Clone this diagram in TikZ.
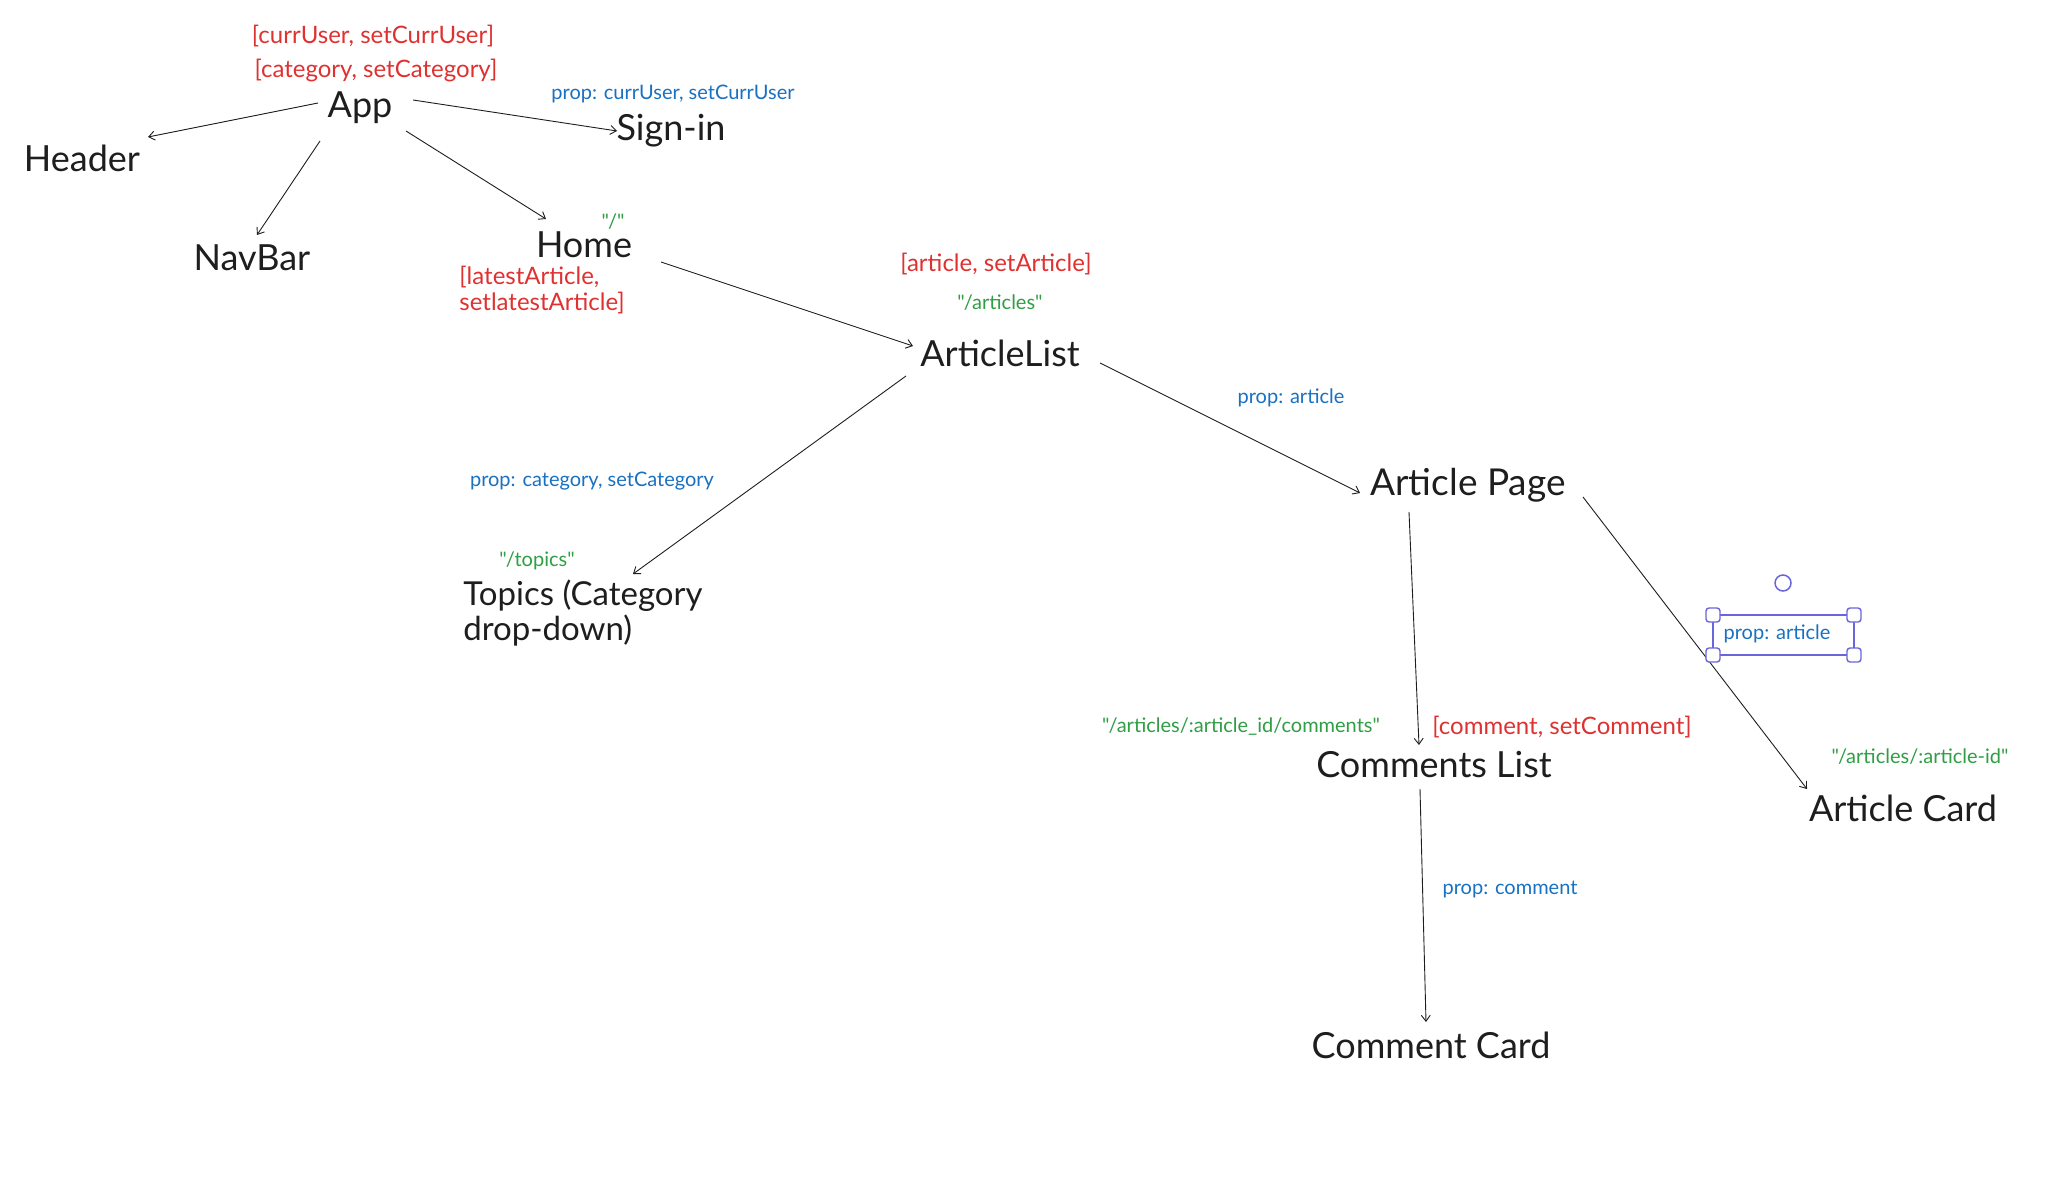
\documentclass[tikz,border=0pt]{standalone}
\usepackage{fontspec}
\setmainfont{Lato}[Ligatures=TeXOff]
\usetikzlibrary{calc,arrows.meta}
\definecolor{exred}{HTML}{E03131}
\definecolor{exblue}{HTML}{1971C2}
\definecolor{exgreen}{HTML}{2F9E44}
\definecolor{exsel}{HTML}{6965DB}
\definecolor{exink}{HTML}{1E1E1E}
\begin{document}
\begin{tikzpicture}[x=0.5pt,y=-0.5pt,
 comp/.style={font=\fontsize{18}{22}\selectfont, text=exink, inner sep=0pt},
 state/.style={font=\fontsize{12}{13}\selectfont, text=exred, inner sep=0pt},
 propl/.style={font=\fontsize{10}{12}\selectfont, text=exblue, inner sep=0pt},
 route/.style={font=\fontsize{10}{12}\selectfont, text=exgreen, inner sep=0pt},
 arr/.style={draw=exink, line width=0.45pt, -{Straight Barb[length=3pt,width=4.5pt]}},
 handle/.style={draw=exsel, fill=white, line width=0.7pt, rounded corners=1.5pt, minimum size=7pt, inner sep=0pt}
]
\fill[white] (0,0) rectangle (2068,1192);
\useasboundingbox (0,0) rectangle (2068,1192);

% components
\node[comp] (app) at (360,108) {App};
\node[comp] (header) at (82,158) {Header};
\node[comp] (navbar) at (252,258) {NavBar};
\node[comp] (signin) at (671,131) {Sign-in};
\node[comp] (home) at (584,245) {Home};
\node[comp] (alist) at (1000,353) {ArticleList};
\node[comp, font=\fontsize{16.5}{17.5}\selectfont, align=left] (topics) at (583,613) {Topics (Category\\drop-down)};
\node[comp, font=\fontsize{18.5}{22}\selectfont] (apage) at (1468,485) {Article Page};
\node[comp] (clist) at (1434,765) {Comments List};
\node[comp] (acard) at (1903,808) {Article Card};
\node[comp] (ccard) at (1431,1045) {Comment Card};

% labels
\node[state] (s1) at (373,36) {[currUser, setCurrUser]};
\node[state] (s2) at (376,70) {[category, setCategory]};
\node[propl] (p1) at (673,94) {prop: currUser, setCurrUser};
\node[route] (r1) at (613,222) {"/"};
\node[state, align=left, anchor=west] (s3) at (459,290) {[latestArticle,\\setlatestArticle]};
\node[state] (s4) at (996,264) {[article, setArticle]};
\node[route] (r2) at (1000,303) {"/articles"};
\node[propl] (p2) at (1291,398) {prop: article};
\node[propl] (p3) at (592,481) {prop: category, setCategory};
\node[route] (r3) at (537,561) {"/topics"};
\node[route] (r4) at (1241,727) {"/articles/:article\_id/comments"};
\node[state] (s5) at (1562,727) {[comment, setComment]};
\node[route] (r5) at (1920,757) {"/articles/:article-id"};
\node[propl] (p4) at (1510,890) {prop: comment};

% connectors
\draw[arr] ($(app)+(-42,-5)$) -- ($(header)+(66,-21)$);
\draw[arr] ($(app)+(-40,33)$) -- ($(navbar)+(5,-23)$);
\draw[arr] ($(app)+(53,-8)$) -- ($(signin)+(-54,0)$);
\draw[arr] ($(app)+(46,23)$) -- ($(home)+(-38,-26)$);
\draw[arr] ($(home)+(77,17)$) -- ($(alist)+(-87,-7)$);
\draw[arr] ($(alist)+(-94,23)$) -- ($(topics)+(50,-39)$);
\draw[arr] ($(alist)+(100,10)$) -- ($(apage)+(-108,8)$);
\draw[arr] ($(apage)+(-59,27)$) -- ($(clist)+(-15,-20)$);
\draw[arr] ($(apage)+(115,12)$) -- ($(acard)+(-96,-19)$);
\draw[arr] ($(clist)+(-14,24)$) -- ($(ccard)+(-5,-23)$);

% selected text element
\node[propl] (p5) at (1777,634) {prop: article};
\draw[exsel, line width=0.75pt] (1713,615) rectangle (1854,655);
\foreach \hx/\hy in {1713/615,1854/615,1713/655,1854/655}
  \node[handle] at (\hx,\hy) {};
\draw[exsel, line width=0.75pt] (1783,583) circle[radius=4pt];
\end{tikzpicture}
\end{document}
